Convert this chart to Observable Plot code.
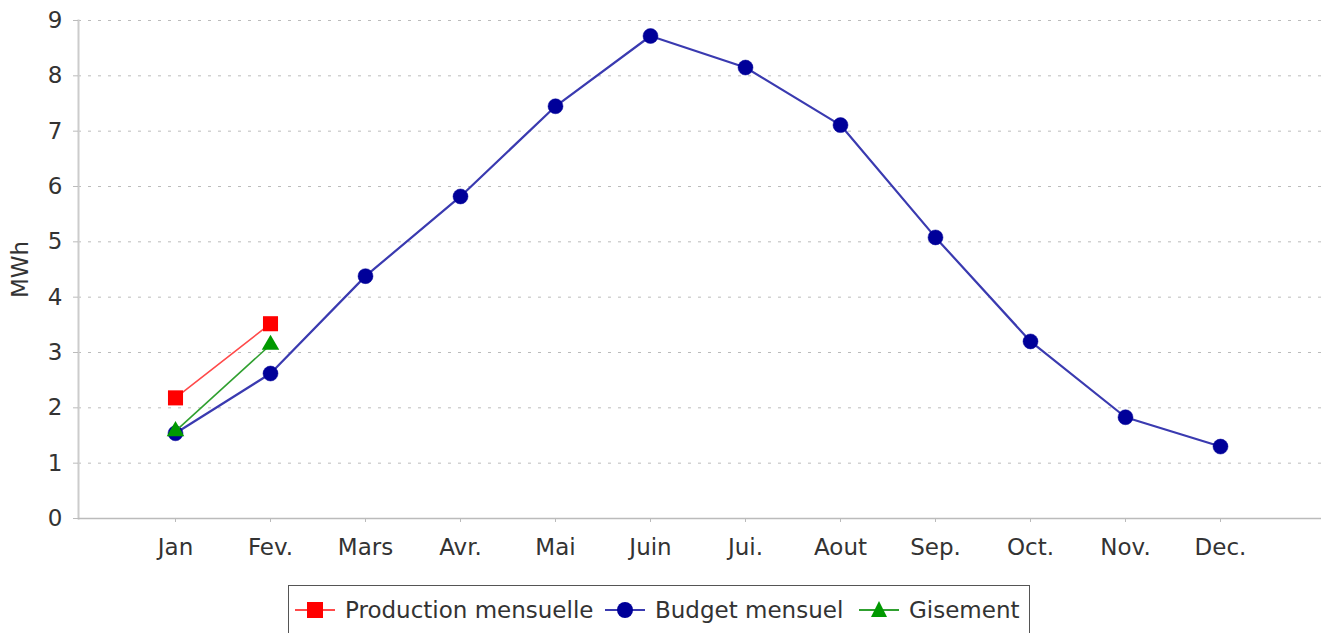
<!DOCTYPE html>
<html>
<head>
<meta charset="utf-8">
<script src="https://cdn.jsdelivr.net/npm/d3@7"></script>
<script src="https://cdn.jsdelivr.net/npm/@observablehq/plot@0.6"></script>
<style>
  html, body { margin: 0; padding: 0; background: #fff; overflow: hidden; }
  #chart { width: 1321px; }
  .legend {
    position: absolute; left: 288px; top: 585px; width: 742px; height: 54px;
    border: 1.5px solid #555; box-sizing: border-box; background: #fff;
    font-family: "DejaVu Sans", sans-serif; font-size: 23px; color: #333;
  }
  .item { position: absolute; top: 0; height: 48px; display: flex; align-items: center; }
  .item svg { margin-right: 8px; }
</style>
</head>
<body>
<div id="chart"></div>
<script>
const months = ["Jan", "Fev.", "Mars", "Avr.", "Mai", "Juin", "Jui.", "Aout", "Sep.", "Oct.", "Nov.", "Dec."];
const budget = [1.54, 2.62, 4.38, 5.82, 7.45, 8.72, 8.15, 7.11, 5.08, 3.20, 1.83, 1.30];
const production = [2.18, 3.52];
const gisement = [1.58, 3.14];
const yTicks = [0, 1, 2, 3, 4, 5, 6, 7, 8, 9];
const seriesNames = ["Production mensuelle", "Budget mensuel", "Gisement"];

const budgetData = budget.map((v, i) => ({month: months[i], value: v}));
const prodData = production.map((v, i) => ({month: months[i], value: v}));
const gisData = gisement.map((v, i) => ({month: months[i], value: v}));

const chart = Plot.plot({
  width: 1321,
  height: 575,
  marginLeft: 78,
  marginRight: 0,
  marginTop: 20,
  marginBottom: 57,
  style: {fontFamily: "DejaVu Sans, sans-serif", fontSize: "23px", color: "#333", background: "#fff"},
  x: {type: "point", domain: months, range: [174, 1221], padding: 0},
  y: {domain: [0, 9], range: [518, 20]},
  marks: [
    Plot.gridY(yTicks.filter(d => d > 0), {stroke: "#bbb", strokeOpacity: 1, strokeDasharray: "3,7", strokeWidth: 1}),
    Plot.frame({anchor: "left", stroke: "#ccc", strokeWidth: 2}),
    Plot.ruleY([0], {stroke: "#bbb", strokeWidth: 1.5}),
    Plot.axisY(yTicks, {tickSize: 5, tickPadding: 11, stroke: "#bbb", fill: "#333", label: null, fontSize: 23, tickFormat: "d"}),
    Plot.text(["MWh"], {frameAnchor: "left", textAnchor: "middle", dx: -58, rotate: -90, fill: "#333", fontSize: 23}),
    Plot.axisX({tickSize: 4, tickPadding: 16, stroke: "#bbb", fill: "#333", label: null, fontSize: 23}),
    Plot.line(budgetData, {x: "month", y: "value", stroke: "#3a3ab0", strokeWidth: 2.2}),
    Plot.dot(budgetData, {x: "month", y: "value", r: 7.5, fill: "#000099", stroke: "#000099", strokeWidth: 0.5}),
    Plot.line(prodData, {x: "month", y: "value", stroke: "#ff4a4a", strokeWidth: 1.6}),
    Plot.dot(prodData, {x: "month", y: "value", symbol: "square", r: 8.5, fill: "#ff0000"}),
    Plot.line(gisData, {x: "month", y: "value", stroke: "#30a030", strokeWidth: 1.6}),
    Plot.dot(gisData, {x: "month", y: "value", symbol: "triangle", r: 6.5, fill: "#009900"})
  ]
});
document.getElementById("chart").appendChild(chart);

// Legend
const legend = document.createElement("div");
legend.className = "legend";
const items = [
  {name: seriesNames[0], line: "#ff4a4a", fill: "#ff0000", sym: "square", left: 4},
  {name: seriesNames[1], line: "#3a3ab0", fill: "#000099", sym: "circle", left: 314},
  {name: seriesNames[2], line: "#30a030", fill: "#009900", sym: "triangle", left: 568}
];
for (const it of items) {
  const d = document.createElement("div");
  d.className = "item";
  d.style.left = it.left + "px";
  let shape;
  if (it.sym === "square") shape = `<rect x="14" y="4" width="16" height="16" fill="${it.fill}"/>`;
  else if (it.sym === "circle") shape = `<circle cx="22" cy="12" r="8" fill="${it.fill}"/>`;
  else shape = `<path d="M22,3 L30,19 L14,19 Z" fill="${it.fill}"/>`;
  d.innerHTML = `<svg width="44" height="24"><line x1="2" x2="42" y1="12" y2="12" stroke="${it.line}" stroke-width="2"/>${shape}</svg><span>${it.name}</span>`;
  legend.appendChild(d);
}
document.body.appendChild(legend);
</script>
</body>
</html>
